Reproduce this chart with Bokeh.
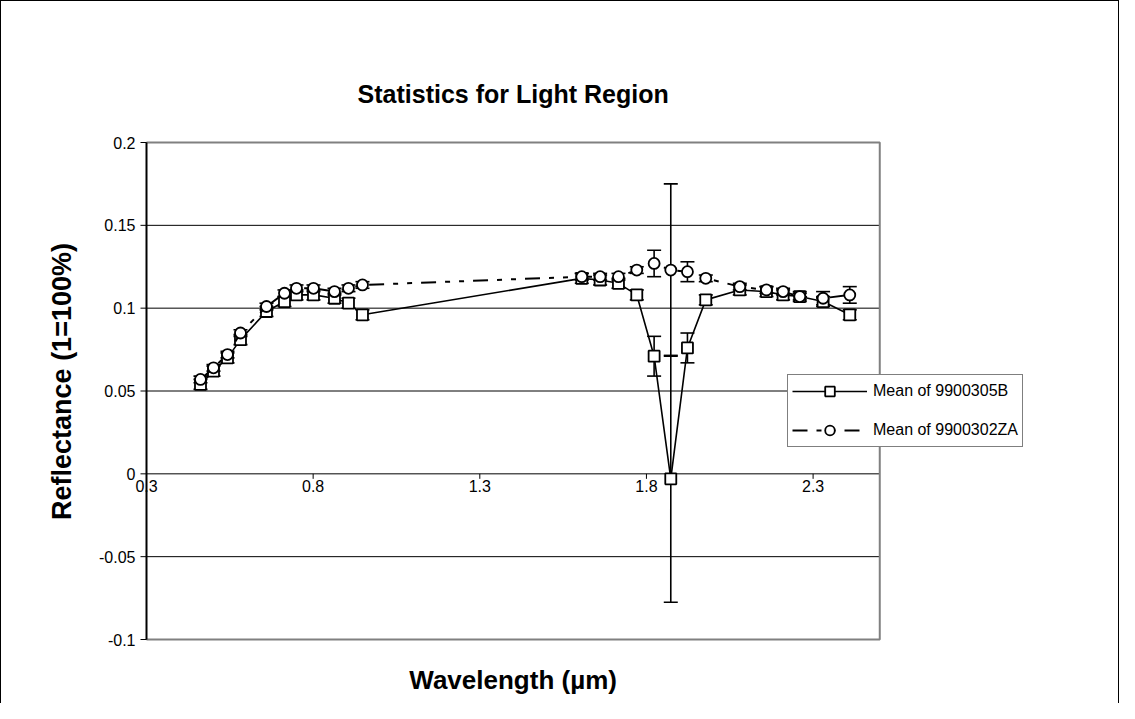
import math
from bokeh.plotting import figure
from bokeh.models import (ColumnDataSource, Whisker, TeeHead, Legend, LegendItem, Range1d)
from bokeh.embed import file_html
from bokeh.resources import INLINE
from bokeh.core.properties import value

# ---------------- data ----------------
wavelength = [0.462, 0.501, 0.543, 0.582, 0.660, 0.714, 0.750, 0.801, 0.864, 0.906, 0.948,
              1.606, 1.661, 1.716, 1.771, 1.823, 1.873, 1.923, 1.978,
              2.08, 2.16, 2.21, 2.26, 2.33, 2.41]
mean_b = [0.054, 0.062, 0.070, 0.081, 0.098, 0.104, 0.108, 0.108, 0.106, 0.103, 0.096,
          0.118, 0.117, 0.115, 0.108, 0.071, -0.003, 0.076, 0.105,
          0.111, 0.110, 0.108, 0.107, 0.104, 0.096]
err_b = [0.003, 0.003, 0.003, 0.003, 0.003, 0.003, 0.003, 0.003, 0.003, 0.003, 0.003,
         0.003, 0.003, 0.003, 0.003, 0.012, 0.0745, 0.009, 0.003,
         0.003, 0.003, 0.003, 0.003, 0.003, 0.003]
mean_za = [0.057, 0.064, 0.072, 0.085, 0.101, 0.109, 0.112, 0.112, 0.110, 0.112, 0.114,
           0.119, 0.119, 0.119, 0.123, 0.127, 0.123, 0.122, 0.118,
           0.113, 0.111, 0.110, 0.107, 0.106, 0.108]
err_za = [0.002, 0.002, 0.002, 0.002, 0.002, 0.002, 0.002, 0.002, 0.002, 0.002, 0.002,
          0.002, 0.002, 0.002, 0.002, 0.008, 0.052, 0.006, 0.002,
          0.002, 0.002, 0.002, 0.002, 0.004, 0.005]
x_ticks = [0.3, 0.8, 1.3, 1.8, 2.3]
x_tick_labels = ["0.3", "0.8", "1.3", "1.8", "2.3"]
y_ticks = [-0.1, -0.05, 0.0, 0.05, 0.1, 0.15, 0.2]
y_tick_labels = ["-0.1", "-0.05", "0", "0.05", "0.1", "0.15", "0.2"]
series_names = ["Mean of 9900305B", "Mean of 9900302ZA"]
chart_title = "Statistics for Light Region"
x_title = "Wavelength (\u00b5m)"
y_title = "Reflectance (1=100%)"

# ---------------- layout / style constants (page pixels) ----------------
X_MIN, X_MAX = 0.3, 2.5          # plot-area limits
Y_MIN, Y_MAX = -0.1, 0.2
PLOT_L, PLOT_T, PLOT_B = 153, 149, 646
PX_X = 333.3                     # px per x unit
PX_Y = (PLOT_B - PLOT_T) / (Y_MAX - Y_MIN)
FR_L, FR_R, FR_T, FR_B = 12, 1122, 12, 708   # drawing frame (covers the whole chart)
FONT = "Liberation Sans"


def dx(px):
    return X_MIN + (px - PLOT_L) / PX_X


def dy(py):
    return Y_MAX - (py - PLOT_T) / PX_Y


src_b = ColumnDataSource(dict(x=wavelength, y=mean_b,
                              lo=[m - e for m, e in zip(mean_b, err_b)],
                              hi=[m + e for m, e in zip(mean_b, err_b)]))
src_za = ColumnDataSource(dict(x=wavelength, y=mean_za,
                               lo=[m - e for m, e in zip(mean_za, err_za)],
                               hi=[m + e for m, e in zip(mean_za, err_za)]))
src_xt = ColumnDataSource(dict(x=x_ticks, y=[0.0] * len(x_ticks), t=x_tick_labels))
src_yt = ColumnDataSource(dict(x=[X_MIN] * len(y_ticks), y=y_ticks, t=y_tick_labels,
                               x1=[X_MAX] * len(y_ticks)))

p = figure(width=1119, height=703, output_backend="svg", toolbar_location=None,
           x_range=Range1d(dx(FR_L), dx(FR_R)), y_range=Range1d(dy(FR_B), dy(FR_T)),
           min_border_left=FR_L - 8, min_border_right=1127 - FR_R,
           min_border_top=FR_T - 8, min_border_bottom=711 - FR_B)
p.styles = {"border-left": "1px solid black", "border-top": "1px solid black",
            "border-right": "1px solid black"}
p.xaxis.visible = False
p.yaxis.visible = False
p.xgrid.grid_line_color = None
p.ygrid.grid_line_color = None
p.outline_line_color = None
p.background_fill_color = "white"
p.border_fill_color = "white"

plot_cx = PLOT_L + (X_MAX - X_MIN) * PX_X / 2

# titles
p.text(x=[dx(plot_cx)], y=[dy(100)], text=[chart_title], text_font=value(FONT),
       text_font_size="25px", text_font_style="bold", text_color="black",
       text_align="center", text_baseline="middle")
p.text(x=[dx(plot_cx)], y=[dy(686)], text=[x_title], text_font=value(FONT),
       text_font_size="26px", text_font_style="bold", text_color="black",
       text_align="center", text_baseline="middle")
p.text(x=[dx(68)], y=[dy(388)], text=[y_title], text_font=value(FONT),
       text_font_size="27px", text_font_style="bold", text_color="black",
       text_align="center", text_baseline="middle", angle=math.pi / 2)

# gridlines and plot-area border
p.segment(x0="x", x1="x1", y0="y", y1="y", source=src_yt, line_color="black", line_width=1)
p.line([X_MIN, X_MAX, X_MAX, X_MIN], [Y_MAX, Y_MAX, Y_MIN, Y_MIN],
       line_color="#808080", line_width=2)

# y axis
p.line([X_MIN, X_MIN], [Y_MIN, Y_MAX], line_color="black", line_width=2)
p.ray(x="x", y="y", source=src_yt, length=6, length_units="screen", angle=math.pi,
      line_color="black", line_width=1)
p.text(x="x", y="y", text="t", source=src_yt, x_offset=-11,
       text_font=value(FONT), text_font_size="16px", text_align="right",
       text_baseline="middle", text_color="black")

# x axis crossing at y = 0
p.ray(x="x", y="y", source=src_xt, length=5, length_units="screen",
      angle=-math.pi / 2, line_color="black", line_width=1)
p.text(x="x", y="y", text="t", source=src_xt, y_offset=6,
       text_font=value(FONT), text_font_size="16px", text_align="center",
       text_baseline="top", text_color="black")

# series
l1 = p.line("x", "y", source=src_b, line_color="black", line_width=1.6)
p.add_layout(Whisker(source=src_b, base="x", lower="lo", upper="hi",
                     line_color="black", line_width=1.6,
                     upper_head=TeeHead(size=14, line_color="black", line_width=1.6),
                     lower_head=TeeHead(size=14, line_color="black", line_width=1.6)))
m1 = p.scatter("x", "y", source=src_b, marker="square", size=11, fill_color="white",
               line_color="black", line_width=1.8)

l2 = p.line("x", "y", source=src_za, line_color="black", line_width=2,
            line_dash="15 9 5 9 5 9")
p.add_layout(Whisker(source=src_za, base="x", lower="lo", upper="hi",
                     line_color="black", line_width=1.6,
                     upper_head=TeeHead(size=14, line_color="black", line_width=1.6),
                     lower_head=TeeHead(size=14, line_color="black", line_width=1.6)))
m2 = p.scatter("x", "y", source=src_za, marker="circle", size=11, fill_color="white",
               line_color="black", line_width=1.8)

legend = Legend(items=[LegendItem(label=series_names[0], renderers=[l1, m1]),
                       LegendItem(label=series_names[1], renderers=[l2, m2])],
                location=(794 - FR_L, FR_B - 454))
legend.label_text_font = FONT
legend.label_text_font_size = "16px"
legend.label_text_color = "black"
legend.border_line_color = "black"
legend.border_line_width = 1
legend.background_fill_color = "white"
legend.background_fill_alpha = 1
legend.glyph_width = 75
legend.glyph_height = 24
legend.spacing = 15
legend.padding = 4
legend.margin = 0
legend.label_standoff = 6
p.add_layout(legend, "center")

open("out.html", "w").write(file_html(p, INLINE))
